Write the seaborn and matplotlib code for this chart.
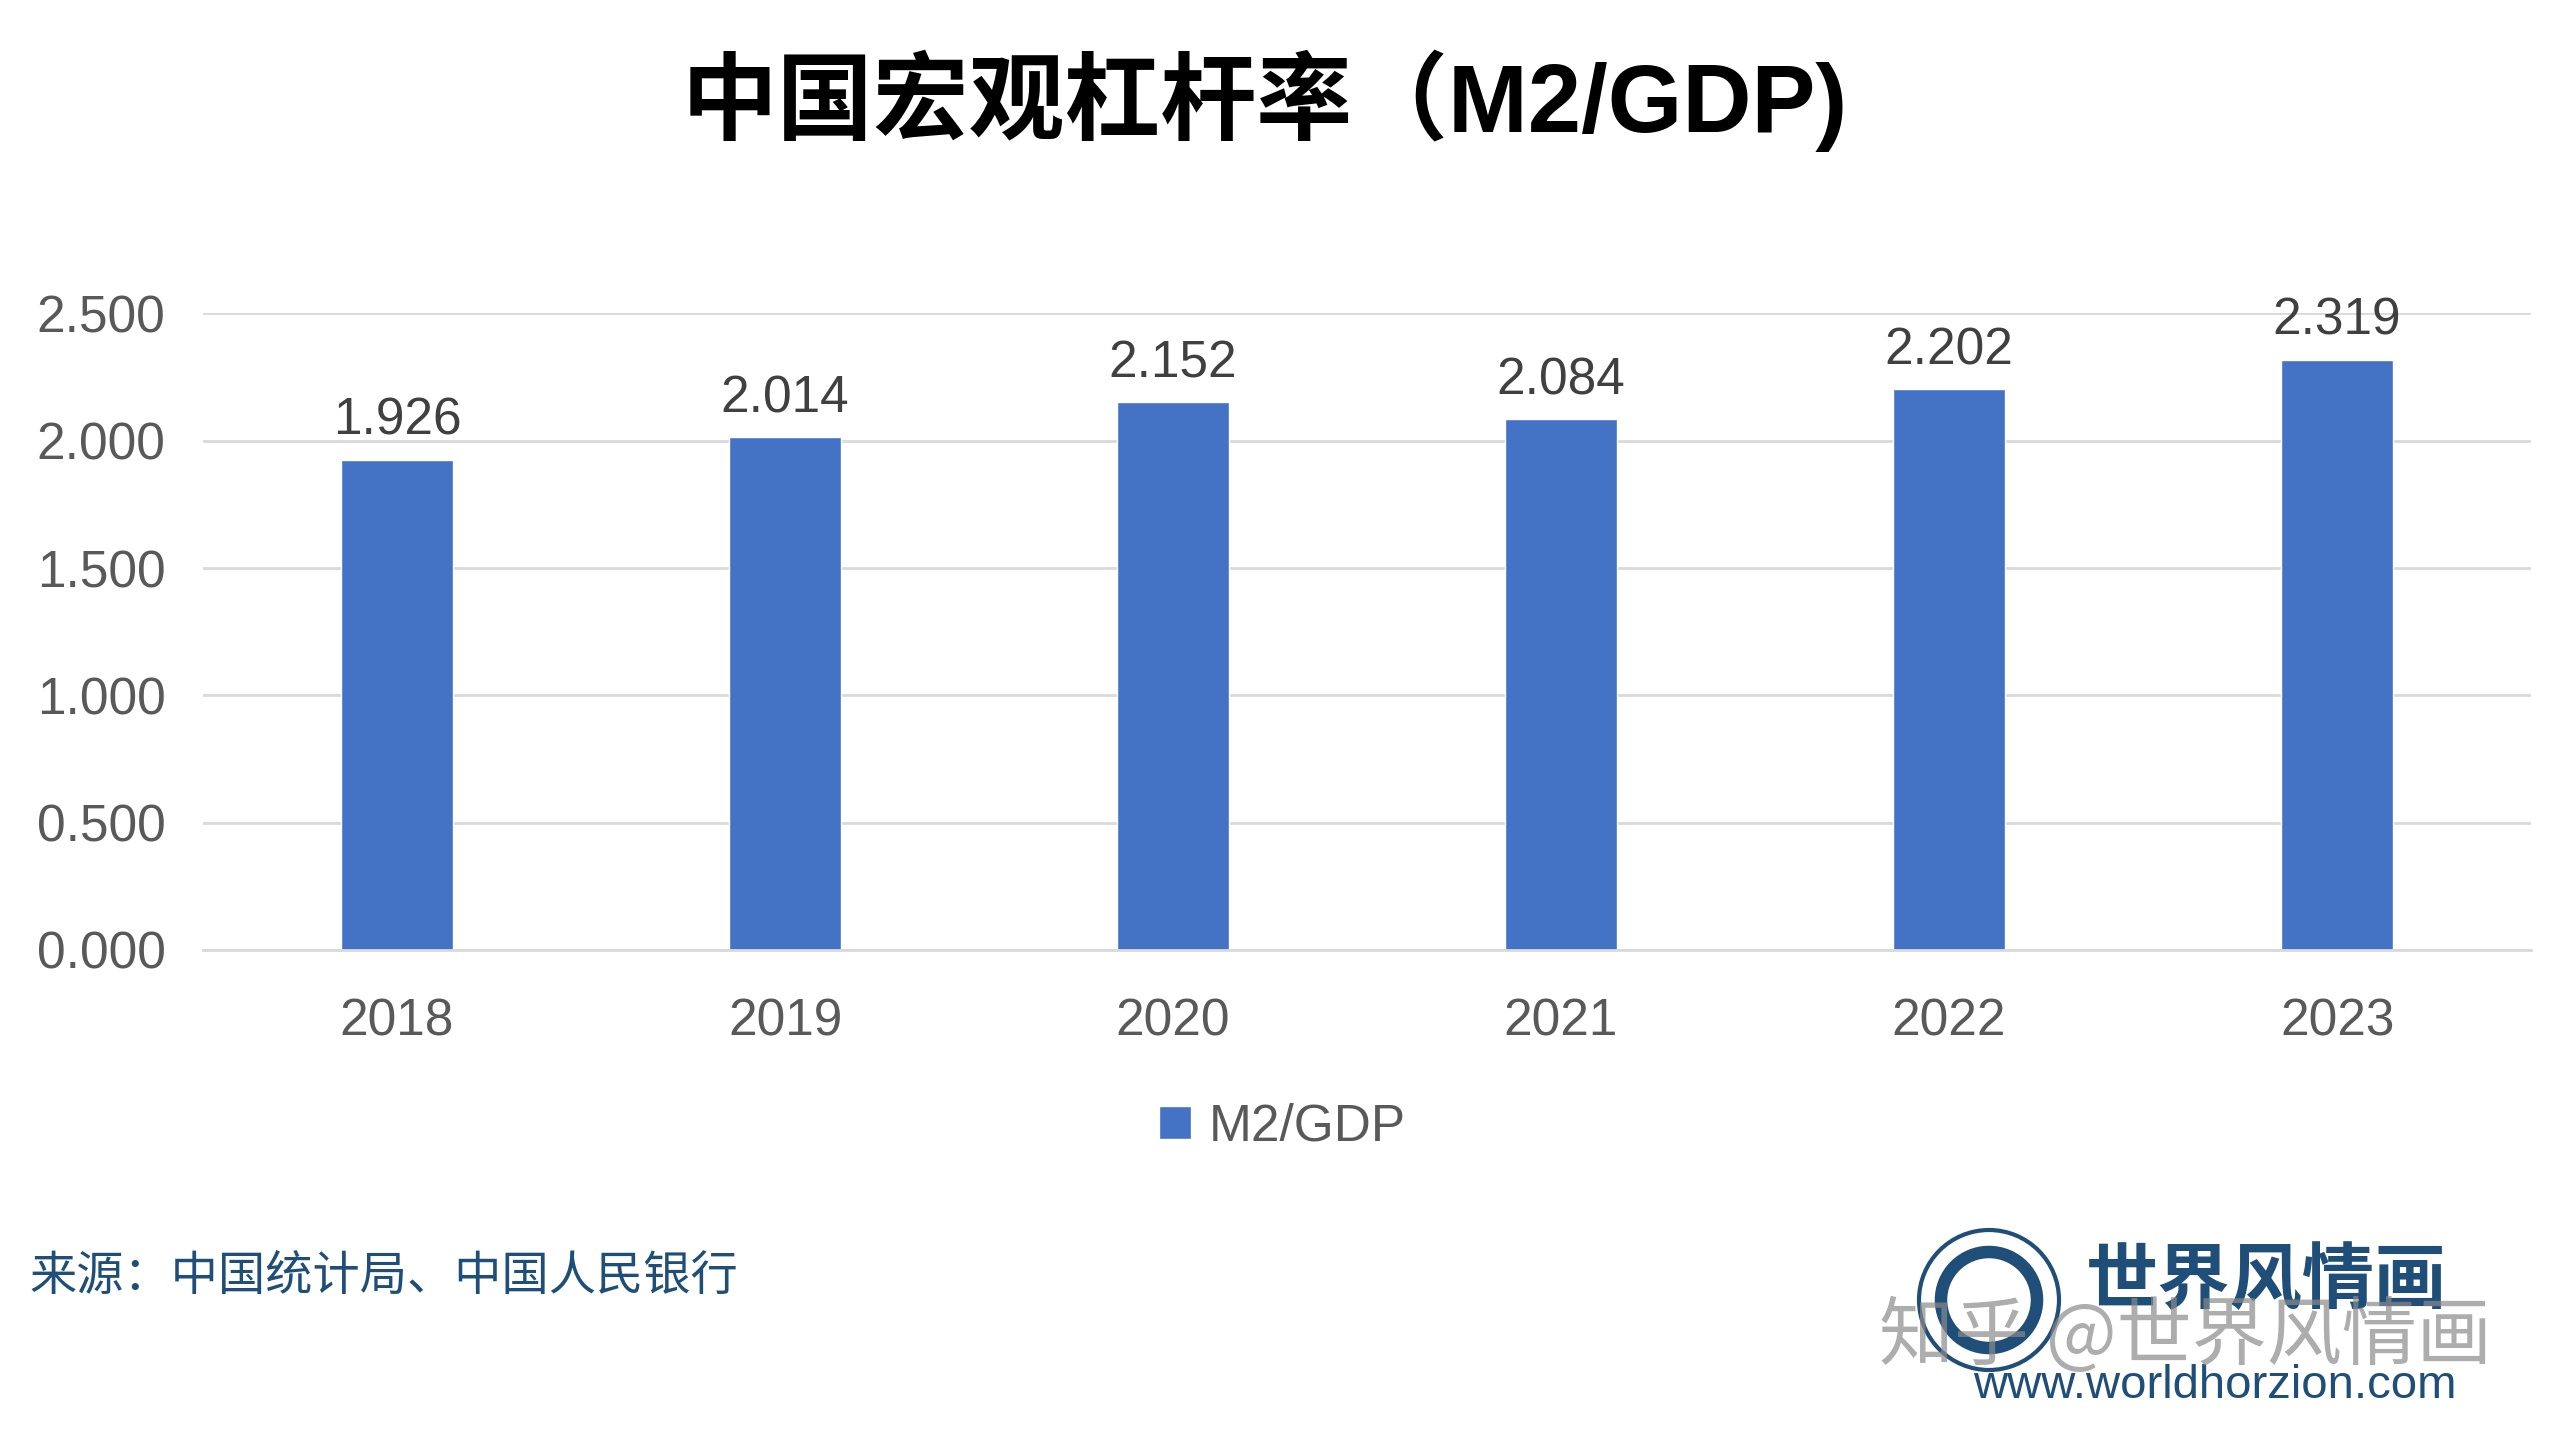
import matplotlib
matplotlib.use("Agg")
import matplotlib.pyplot as plt
import matplotlib.patches as mpatches
import seaborn as sns
import pandas as pd

# data
years = ["2018", "2019", "2020", "2021", "2022", "2023"]
m2_gdp = [1.926, 2.014, 2.152, 2.084, 2.202, 2.319]
yticks = [0.0, 0.5, 1.0, 1.5, 2.0, 2.5]

title = "中国宏观杠杆率（M2/GDP)"
series_name = "M2/GDP"
source = "来源：中国统计局、中国人民银行"

sns.set_style("white")
plt.rcParams["font.family"] = ["Liberation Sans", "Noto Sans CJK SC", "DejaVu Sans"]

BAR = "#4472C4"
GRID = "#D9D9D9"
TICK = "#595959"
NAVY = "#1F4E79"

df = pd.DataFrame({"year": years, "value": m2_gdp})

fig = plt.figure(figsize=(25.6, 14.4), dpi=100)
ax = fig.add_axes([0.0793, 0.3403, 0.9094, 0.4420])

sns.barplot(data=df, x="year", y="value", color=BAR, width=0.29,
            saturation=1, label=series_name, ax=ax)

ax.set_ylim(0, 2.5)
ax.set_yticks(yticks)
ax.set_yticklabels([f"{t:.3f}" for t in yticks])
ax.set_xlabel("")
ax.set_ylabel("")
ax.grid(axis="y", color=GRID, linewidth=2)
ax.set_axisbelow(True)
for side in ["top", "right", "left"]:
    ax.spines[side].set_visible(False)
ax.spines["bottom"].set_color(GRID)
ax.spines["bottom"].set_linewidth(2)
ax.tick_params(axis="y", length=0, pad=27, labelsize=37, labelcolor=TICK)
ax.tick_params(axis="x", length=0, pad=34, labelsize=37, labelcolor=TICK)

# value labels on top of bars
ax.bar_label(ax.containers[0], fmt="%.3f", padding=10, fontsize=37, color="#404040")

ax.legend(loc="center", bbox_to_anchor=(0.501, 0.2174), bbox_transform=fig.transFigure,
          frameon=False, fontsize=37, handlelength=0.62, handleheight=0.62,
          handletextpad=0.35, labelcolor=TICK)

# title
fig.text(0.494, 0.930, title, ha="center", va="center", fontsize=69,
         fontweight="heavy", color="black",
         family=["Liberation Sans", "Noto Sans CJK SC"])

# source note
fig.text(0.0113, 0.1132, source, ha="left", va="center", fontsize=34,
         color=NAVY, family=["Noto Sans CJK SC", "DejaVu Sans"])

# logo block (bottom right); the watermark sits over it as in the reference
for r, lw in [(70, 3), (48, 9)]:
    circ = mpatches.Circle((1989, 1440 - 1300), r, transform=None, fill=False,
                           edgecolor=NAVY, linewidth=lw)
    fig.patches.append(circ)
fig.text(2266 / 2560, 1 - 1282 / 1440, "世界风情画", ha="center", va="center",
         fontsize=52, fontweight="heavy", color=NAVY,
         family=["Noto Sans CJK SC", "DejaVu Sans"])
fig.text(2215 / 2560, 1 - 1386 / 1440, "www.worldhorzion.com", ha="center", va="center",
         fontsize=34, color=NAVY)
fig.text(2185 / 2560, 1 - 1338 / 1440, "知乎 @世界风情画", ha="center", va="center",
         fontsize=54, color="#8a8a8a", alpha=0.7,
         family=["Noto Sans CJK SC", "DejaVu Sans"])

fig.savefig("out.png", dpi=100)
